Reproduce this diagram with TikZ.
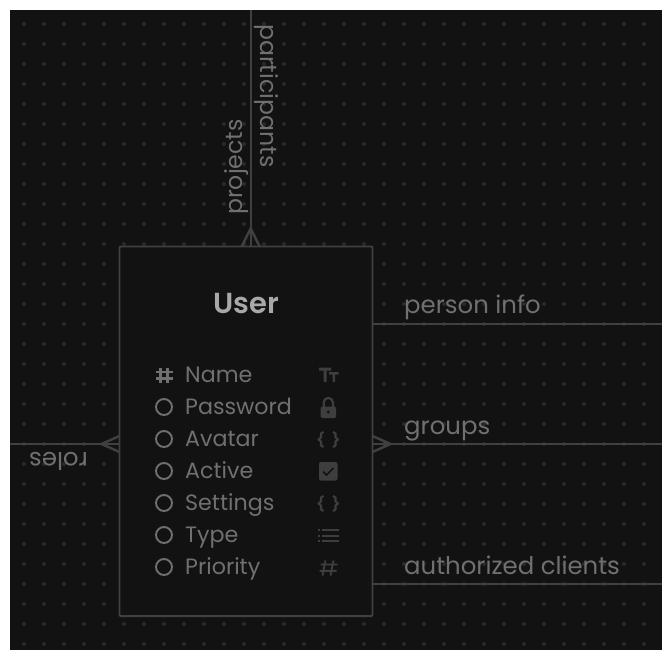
\documentclass[tikz,border=0pt]{standalone}
\usepackage{fontspec}
\setmainfont{Poppins}
\newfontfamily\titlefont{Poppins SemiBold}
\definecolor{bgc}{HTML}{121212}
\definecolor{linec}{HTML}{404040}
\definecolor{dotc}{HTML}{2A2A2A}
\definecolor{labelc}{HTML}{707070}
\definecolor{titlec}{HTML}{A8A8A8}
\definecolor{attrc}{HTML}{707070}
\definecolor{iconc}{HTML}{3E3E3E}
\tikzset{
  conn/.style={draw=linec,line width=2.4pt},
  lbl/.style={text=labelc,font=\fontsize{24.4}{27}\selectfont,inner sep=0pt},
  rlbl/.style={text=labelc,font=\fontsize{23.6}{27}\selectfont,inner sep=0pt},
  attr/.style={text=attrc,font=\fontsize{22.2}{25}\selectfont,inner sep=0pt,anchor=base west},
  keyc/.style={circle,draw=attrc,line width=1.9pt,minimum size=16pt,inner sep=0pt},
  ico/.style={draw=iconc,line width=2.1pt},
  hashk/.style={draw=attrc,line width=2.2pt}
}
\begin{document}
\begin{tikzpicture}[x=1pt,y=-1pt]
\useasboundingbox (0,0) rectangle (672,660);
\fill[white] (0,0) rectangle (672,660);
\fill[bgc] (10,10) rectangle (662,650);
\foreach \i in {0,...,31}{\foreach \j in {0,...,31}{
  \fill[dotc] ({24+20*\i},{24+20*\j}) circle (2);
}}
\node[draw=linec,line width=1.9pt,fill=bgc,minimum width=253pt,minimum height=369.5pt,inner sep=0pt,rounded corners=1pt] (user) at (246,431.3) {};
\coordinate (topend) at (250.7,10);
\coordinate (topin) at (250.7,246.5);
\coordinate (leftend) at (10,444);
\coordinate (leftin) at (119.5,444);
\coordinate (r1) at (372.5,324);
\coordinate (r1e) at (662,324);
\coordinate (r2) at (372.5,444);
\coordinate (r2e) at (662,444);
\coordinate (r3) at (372.5,584);
\coordinate (r3e) at (662,584);
\draw[conn] (topend) -- (topin);
\draw[conn] (leftend) -- (leftin);
\draw[conn] (r1) -- (r1e);
\draw[conn] (r2) -- (r2e);
\draw[conn] (r3) -- (r3e);
% crow feet
\draw[conn] ([xshift=-9pt]topin) -- ([yshift=18pt]topin) -- ([xshift=9pt]topin);
\draw[conn] ([yshift=-8pt]leftin) -- ([xshift=-18pt]leftin) -- ([yshift=8pt]leftin);
\draw[conn] ([yshift=-8pt]r2) -- ([xshift=18pt]r2) -- ([yshift=8pt]r2);
% labels
\node[lbl,anchor=base west] (l1) at (404,314) {person info};
\node[lbl,anchor=base west] (l2) at (404,434) {groups};
\node[lbl,anchor=base west] (l3) at (404,574) {authorized clients};
\node[rlbl,anchor=base west,rotate=-90] (l4) at (260,24) {participants};
\node[rlbl,anchor=base west,rotate=90] (l5) at (242,215) {projects};
\node[lbl,anchor=base west,rotate=180] (l6) at (88,452) {roles};
\node[text=titlec,font=\titlefont\fontsize{29}{32}\selectfont,inner sep=0pt,anchor=base] (title) at (246,313.5) {User};
% attributes
\node[attr] (a1) at (185,382) {Name};
\node[attr] (a2) at (185,414) {Password};
\node[attr] (a3) at (185,446) {Avatar};
\node[attr] (a4) at (185,478) {Active};
\node[attr] (a5) at (185,510) {Settings};
\node[attr] (a6) at (185,542) {Type};
\node[attr] (a7) at (185,574) {Priority};
% key icons
\draw[hashk] (160.5,368)--(160.5,382.5) (167.5,368)--(167.5,382.5) (156,372)--(173,372) (156,378.5)--(173,378.5);
\foreach \y in {407,439,471,503,535,567}{\node[keyc] at (164,\y) {};}
% Tt icon
\fill[iconc] (319,367.5) rectangle (331,370.5) (323.5,367.5) rectangle (326.5,382)
 (329,372) rectangle (338.5,374.5) (332.5,372) rectangle (335,382);
% lock
\fill[iconc,rounded corners=1.5pt] (320.5,406.5) rectangle (336,418);
\draw[iconc,line width=2.2pt] (323.7,407) -- (323.7,402.5) arc[start angle=180,end angle=360,radius=4.6] -- (332.9,407);
\fill[bgc] (328.2,412) circle (1.7);
% braces
\foreach \y in {439.5,503.5}{
 \draw[ico,line join=round] (323.5,{\y-7.5}) -- (321,{\y-6}) -- (321,{\y-2}) -- (318.5,\y) -- (321,{\y+2}) -- (321,{\y+6}) -- (323.5,{\y+7.5});
 \draw[ico,line join=round] (333,{\y-7.5}) -- (335.5,{\y-6}) -- (335.5,{\y-2}) -- (338,\y) -- (335.5,{\y+2}) -- (335.5,{\y+6}) -- (333,{\y+7.5});
}
% checkbox
\fill[iconc,rounded corners=2pt] (319,462) rectangle (337.5,480.5);
\draw[bgc,line width=1.6pt] (323,471.5) -- (326.5,475) -- (333.5,468);
% list
\foreach \d in {-5.2,0,5.2}{
 \fill[iconc] (318,{535.5+\d-1}) rectangle (320,{535.5+\d+1});
 \fill[iconc] (322,{535.5+\d-1}) rectangle (339,{535.5+\d+1});
}
% number sign
\draw[iconc,line width=1.9pt] (325.5,560.5) -- (322.5,575.5) (333.5,560.5) -- (330.5,575.5) (320.5,564.5) -- (337.5,564.5) (319.5,570.8) -- (336.5,570.8);
\end{tikzpicture}
\end{document}
